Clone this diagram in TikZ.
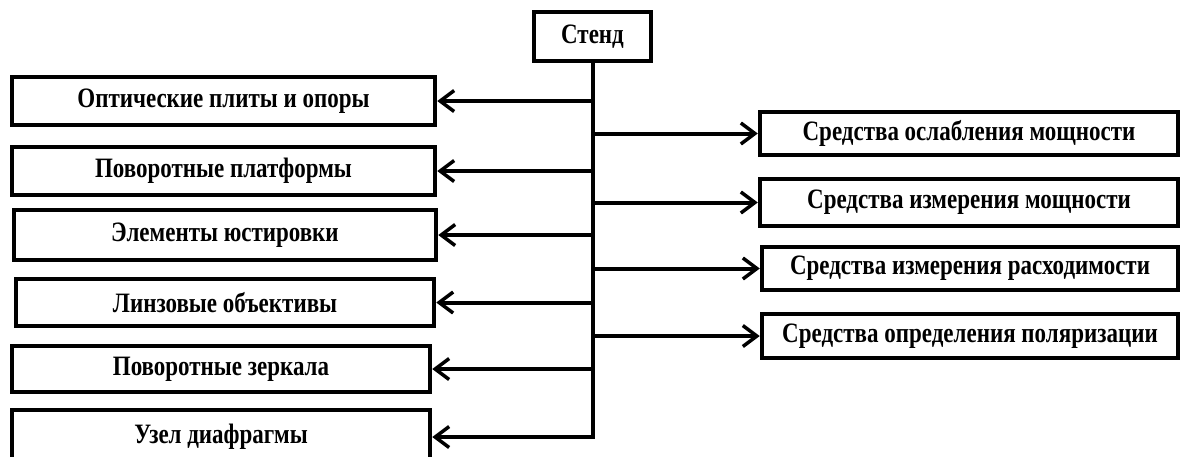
\documentclass[tikz,border=0pt]{standalone}
\usepackage{fontspec}
\setmainfont{Liberation Serif}
\usetikzlibrary{arrows.meta}
% box labels: bold serif, a little taller than wide
\newcommand\boxlabel[1]{\scalebox{1}[1.22]{#1}}
\begin{document}
\begin{tikzpicture}[x=1pt,y=-1pt,
  box/.style={draw=black,line width=4.5pt,fill=white,inner sep=0pt,
    font=\fontsize{23}{26}\selectfont\bfseries,align=center},
  link/.style={line width=4pt,-{Straight Barb[length=14pt,width=21pt,line width=3.5pt]}}]
\useasboundingbox (0,0) rectangle (1182,456);
% root
\node[box,minimum width=117pt,minimum height=49pt] (stend) at (592.5,36.5) {\boxlabel{Стенд}};
% left column
\node[box,minimum width=423pt,minimum height=48pt] (l1) at (223.5,101) {\boxlabel{Оптические плиты и опоры}};
\node[box,minimum width=423pt,minimum height=48pt] (l2) at (223.5,171) {\boxlabel{Поворотные платформы}};
\node[box,minimum width=422pt,minimum height=50pt] (l3) at (225,235) {\boxlabel{Элементы юстировки}};
\node[box,minimum width=418pt,minimum height=47pt] (l4) at (225,302.5) {\boxlabel{Линзовые объективы}};
\node[box,minimum width=418pt,minimum height=46pt] (l5) at (221,369) {\boxlabel{Поворотные зеркала}};
\node[box,minimum width=418pt,minimum height=54pt] (l6) at (221,437) {\boxlabel{Узел диафрагмы}};
% right column
\node[box,minimum width=418pt,minimum height=43pt] (r1) at (969,133.5) {\boxlabel{Средства ослабления мощности}};
\node[box,minimum width=418pt,minimum height=47pt] (r2) at (969,202.5) {\boxlabel{Средства измерения мощности}};
\node[box,minimum width=416pt,minimum height=43pt] (r3) at (970,268.5) {\boxlabel{Средства измерения расходимости}};
\node[box,minimum width=416pt,minimum height=44pt] (r4) at (970,336) {\boxlabel{Средства определения поляризации}};
% trunk with the last branch
\draw[link] (stend.south) |- (l6.east);
% branches to the left
\foreach \n in {l1,l2,l3,l4,l5}
  \draw[link] (stend.south |- \n.east) -- (\n.east);
% branches to the right
\foreach \n in {r1,r2,r3,r4}
  \draw[link] (stend.south |- \n.west) -- (\n.west);
\end{tikzpicture}
\end{document}
